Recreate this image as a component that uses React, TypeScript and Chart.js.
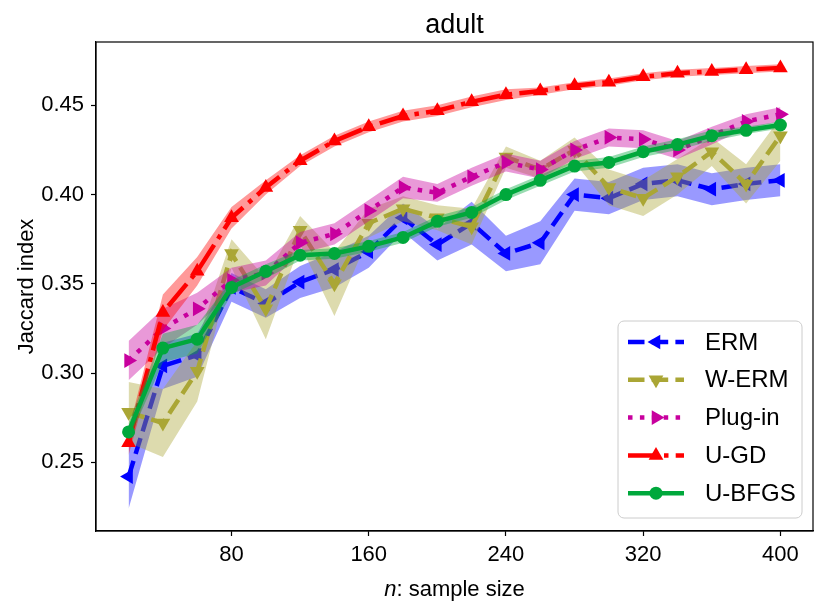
import { useEffect, useRef } from 'react'
import { Chart, registerables } from 'chart.js'

Chart.register(...registerables)

const sampleSizes = [20, 40, 60, 80, 100, 120, 140, 160, 180, 200, 220, 240, 260, 280, 300, 320, 340, 360, 380, 400]

const ermMean = [0.242, 0.304, 0.310, 0.348, 0.339, 0.351, 0.358, 0.368, 0.387, 0.372, 0.384, 0.367, 0.373, 0.400, 0.398, 0.406, 0.408, 0.403, 0.406, 0.408]
const ermLow = [0.224, 0.291, 0.298, 0.340, 0.331, 0.342, 0.348, 0.359, 0.379, 0.363, 0.372, 0.357, 0.361, 0.391, 0.389, 0.397, 0.399, 0.394, 0.397, 0.399]
const ermHigh = [0.260, 0.317, 0.322, 0.356, 0.347, 0.360, 0.368, 0.377, 0.395, 0.381, 0.396, 0.377, 0.385, 0.409, 0.407, 0.415, 0.417, 0.412, 0.415, 0.417]

const wermMean = [0.278, 0.272, 0.301, 0.367, 0.336, 0.380, 0.350, 0.384, 0.392, 0.387, 0.382, 0.421, 0.414, 0.425, 0.404, 0.398, 0.410, 0.424, 0.406, 0.433]
const wermLow = [0.261, 0.253, 0.284, 0.359, 0.319, 0.372, 0.332, 0.376, 0.385, 0.380, 0.372, 0.415, 0.409, 0.418, 0.394, 0.388, 0.400, 0.416, 0.395, 0.419]
const wermHigh = [0.295, 0.291, 0.318, 0.375, 0.353, 0.388, 0.368, 0.392, 0.399, 0.394, 0.392, 0.427, 0.419, 0.432, 0.414, 0.408, 0.420, 0.432, 0.417, 0.443]

const plugMean = [0.307, 0.325, 0.336, 0.352, 0.356, 0.373, 0.378, 0.391, 0.404, 0.401, 0.410, 0.418, 0.414, 0.425, 0.432, 0.431, 0.425, 0.433, 0.441, 0.445]
const plugLow = [0.296, 0.314, 0.327, 0.345, 0.349, 0.367, 0.372, 0.385, 0.398, 0.396, 0.405, 0.413, 0.409, 0.420, 0.427, 0.426, 0.420, 0.428, 0.437, 0.441]
const plugHigh = [0.318, 0.336, 0.345, 0.359, 0.363, 0.379, 0.384, 0.397, 0.410, 0.406, 0.415, 0.423, 0.419, 0.430, 0.437, 0.436, 0.430, 0.438, 0.445, 0.449]

const ugdMean = [0.261, 0.334, 0.357, 0.387, 0.404, 0.419, 0.430, 0.438, 0.444, 0.447, 0.452, 0.456, 0.458, 0.461, 0.463, 0.466, 0.468, 0.469, 0.470, 0.471]
const ugdLow = [0.254, 0.324, 0.349, 0.381, 0.400, 0.416, 0.427, 0.435, 0.441, 0.444, 0.449, 0.453, 0.456, 0.459, 0.461, 0.464, 0.466, 0.467, 0.468, 0.469]
const ugdHigh = [0.268, 0.344, 0.365, 0.393, 0.408, 0.422, 0.433, 0.441, 0.447, 0.450, 0.455, 0.459, 0.460, 0.463, 0.465, 0.468, 0.470, 0.471, 0.472, 0.473]

const bfgsMean = [0.267, 0.314, 0.319, 0.348, 0.357, 0.366, 0.367, 0.371, 0.376, 0.385, 0.390, 0.400, 0.408, 0.416, 0.418, 0.424, 0.428, 0.433, 0.436, 0.439]
const bfgsLow = [0.262, 0.306, 0.311, 0.344, 0.353, 0.363, 0.364, 0.368, 0.373, 0.382, 0.387, 0.397, 0.405, 0.413, 0.415, 0.421, 0.425, 0.430, 0.434, 0.437]
const bfgsHigh = [0.272, 0.322, 0.327, 0.352, 0.361, 0.369, 0.370, 0.374, 0.379, 0.388, 0.393, 0.403, 0.411, 0.419, 0.421, 0.427, 0.431, 0.436, 0.438, 0.441]

const xTicks = [80, 160, 240, 320, 400]
const yTicks = [0.25, 0.3, 0.35, 0.4, 0.45]

const FONT = '"Liberation Sans", Arial, sans-serif'

interface SeriesStyle {
  label: string
  mean: number[]
  low: number[]
  high: number[]
  color: string
  band: string
  dash: number[]
  marker: 'triangle' | 'circle'
  rotation: number
  radius: number
}

const series: SeriesStyle[] = [
  { label: 'ERM', mean: ermMean, low: ermLow, high: ermHigh, color: '#0000ff', band: 'rgba(0,0,255,0.4)', dash: [16.5, 7.2], marker: 'triangle', rotation: -90, radius: 8.5 },
  { label: 'W-ERM', mean: wermMean, low: wermLow, high: wermHigh, color: '#aaa635', band: 'rgba(170,166,53,0.4)', dash: [16.5, 7.2], marker: 'triangle', rotation: 180, radius: 8.5 },
  { label: 'Plug-in', mean: plugMean, low: plugLow, high: plugHigh, color: '#c8009e', band: 'rgba(200,0,158,0.4)', dash: [4.5, 7.4], marker: 'triangle', rotation: 90, radius: 8.5 },
  { label: 'U-GD', mean: ugdMean, low: ugdLow, high: ugdHigh, color: '#ff0000', band: 'rgba(255,0,0,0.4)', dash: [28.8, 7.2, 4.5, 7.2], marker: 'triangle', rotation: 0, radius: 8.5 },
  { label: 'U-BFGS', mean: bfgsMean, low: bfgsLow, high: bfgsHigh, color: '#00a83c', band: 'rgba(0,168,60,0.4)', dash: [], marker: 'circle', rotation: 0, radius: 6.5 },
]

function drawMarker(ctx: CanvasRenderingContext2D, s: SeriesStyle, x: number, y: number) {
  ctx.beginPath()
  if (s.marker === 'circle') {
    ctx.arc(x, y, s.radius, 0, Math.PI * 2)
  } else {
    let rad = (s.rotation * Math.PI) / 180
    ctx.moveTo(x + Math.sin(rad) * s.radius, y - Math.cos(rad) * s.radius)
    rad += (2 * Math.PI) / 3
    ctx.lineTo(x + Math.sin(rad) * s.radius, y - Math.cos(rad) * s.radius)
    rad += (2 * Math.PI) / 3
    ctx.lineTo(x + Math.sin(rad) * s.radius, y - Math.cos(rad) * s.radius)
    ctx.closePath()
  }
  ctx.fillStyle = s.color
  ctx.fill()
}

// title, axis labels, frame and the in-plot legend
const decorations = {
  id: 'decorations',
  afterDraw(chart: Chart) {
    const { ctx, chartArea } = chart
    const { left, right, top, bottom } = chartArea
    const cx = (left + right) / 2
    ctx.save()

    ctx.strokeStyle = '#000'
    ctx.lineWidth = 1.2
    ctx.strokeRect(left, top, right - left, bottom - top)

    ctx.fillStyle = '#000'
    ctx.textAlign = 'center'
    ctx.textBaseline = 'alphabetic'
    ctx.font = `27px ${FONT}`
    ctx.fillText('adult', cx, 33)

    ctx.font = `italic 22px ${FONT}`
    const nW = ctx.measureText('n').width
    ctx.font = `22px ${FONT}`
    const restW = ctx.measureText(': sample size').width
    const x0 = cx - (nW + restW) / 2
    ctx.textAlign = 'left'
    ctx.font = `italic 22px ${FONT}`
    ctx.fillText('n', x0, 596)
    ctx.font = `22px ${FONT}`
    ctx.fillText(': sample size', x0 + nW, 596)

    ctx.save()
    ctx.translate(33, (top + bottom) / 2)
    ctx.rotate(-Math.PI / 2)
    ctx.textAlign = 'center'
    ctx.fillText('Jaccard index', 0, 0)
    ctx.restore()

    // legend box
    const lw = 184
    const lh = 197
    const lx = right - 11 - lw
    const ly = bottom - 13 - lh
    ctx.beginPath()
    ctx.roundRect(lx, ly, lw, lh, 6)
    ctx.fillStyle = 'rgba(255,255,255,0.8)'
    ctx.fill()
    ctx.strokeStyle = '#cccccc'
    ctx.lineWidth = 1
    ctx.stroke()

    series.forEach((s, i) => {
      const y = ly + 21 + i * 37.8
      ctx.setLineDash(s.dash)
      ctx.lineCap = 'butt'
      ctx.lineWidth = 4.5
      ctx.strokeStyle = s.color
      ctx.beginPath()
      ctx.moveTo(lx + 10, y)
      ctx.lineTo(lx + 66, y)
      ctx.stroke()
      ctx.setLineDash([])
      drawMarker(ctx, s, lx + 38, y)
      ctx.fillStyle = '#000'
      ctx.font = `24px ${FONT}`
      ctx.textAlign = 'left'
      ctx.textBaseline = 'middle'
      ctx.fillText(s.label, lx + 87, y + 1)
    })

    ctx.restore()
  },
}

export default function App() {
  const chartRef = useRef<HTMLCanvasElement>(null)
  const chartInstance = useRef<Chart | null>(null)

  useEffect(() => {
    if (!chartRef.current) return
    if (chartInstance.current) chartInstance.current.destroy()

    const datasets: any[] = []
    series.forEach((s, i) => {
      const bandOrder = 20 - i * 2
      datasets.push({
        label: s.label + ' low',
        data: sampleSizes.map((x, k) => ({ x, y: s.low[k] })),
        borderWidth: 0,
        pointRadius: 0,
        fill: false,
        order: bandOrder,
      })
      datasets.push({
        label: s.label + ' high',
        data: sampleSizes.map((x, k) => ({ x, y: s.high[k] })),
        borderWidth: 0,
        pointRadius: 0,
        backgroundColor: s.band,
        fill: '-1',
        order: bandOrder,
      })
    })
    series.forEach((s, i) => {
      datasets.push({
        label: s.label,
        data: sampleSizes.map((x, k) => ({ x, y: s.mean[k] })),
        borderColor: s.color,
        borderWidth: 4.5,
        borderDash: s.dash,
        borderCapStyle: 'butt',
        tension: 0,
        fill: false,
        pointStyle: s.marker,
        pointRotation: s.rotation,
        pointRadius: s.radius,
        pointBorderWidth: 0,
        pointBackgroundColor: s.color,
        pointBorderColor: s.color,
        order: 19 - i * 2,
      })
    })

    chartInstance.current = new Chart(chartRef.current, {
      type: 'line',
      data: { datasets },
      options: {
        responsive: false,
        animation: false,
        layout: { padding: { top: 42, right: 18, left: 0, bottom: 0 } },
        plugins: {
          legend: { display: false },
          tooltip: { enabled: false },
        },
        scales: {
          x: {
            type: 'linear',
            min: 1,
            max: 419,
            afterFit: (scale: any) => { scale.height = 76 },
            afterBuildTicks: (scale: any) => { scale.ticks = xTicks.map(v => ({ value: v })) },
            grid: { drawOnChartArea: false, drawTicks: true, tickLength: 5, tickColor: '#000', tickWidth: 1.2 },
            border: { display: true, color: '#000', width: 1.2 },
            ticks: { color: '#000', font: { size: 22, family: FONT }, padding: 6, maxRotation: 0 },
          },
          y: {
            type: 'linear',
            min: 0.2115,
            max: 0.4855,
            afterFit: (scale: any) => { scale.width = 96 },
            afterBuildTicks: (scale: any) => { scale.ticks = yTicks.map(v => ({ value: v })) },
            grid: { drawOnChartArea: false, drawTicks: true, tickLength: 5, tickColor: '#000', tickWidth: 1.2 },
            border: { display: true, color: '#000', width: 1.2 },
            ticks: {
              color: '#000',
              font: { size: 22, family: FONT },
              padding: 7,
              callback: (v: any) => Number(v).toFixed(2),
            },
          },
        },
      },
      plugins: [decorations],
    })

    return () => {
      if (chartInstance.current) {
        chartInstance.current.destroy()
        chartInstance.current = null
      }
    }
  }, [])

  return (
    <div style={{ position: 'absolute', left: 0, top: 0, width: 831, height: 607, background: '#fff' }}>
      <canvas ref={chartRef} width={831} height={607}></canvas>
    </div>
  )
}
